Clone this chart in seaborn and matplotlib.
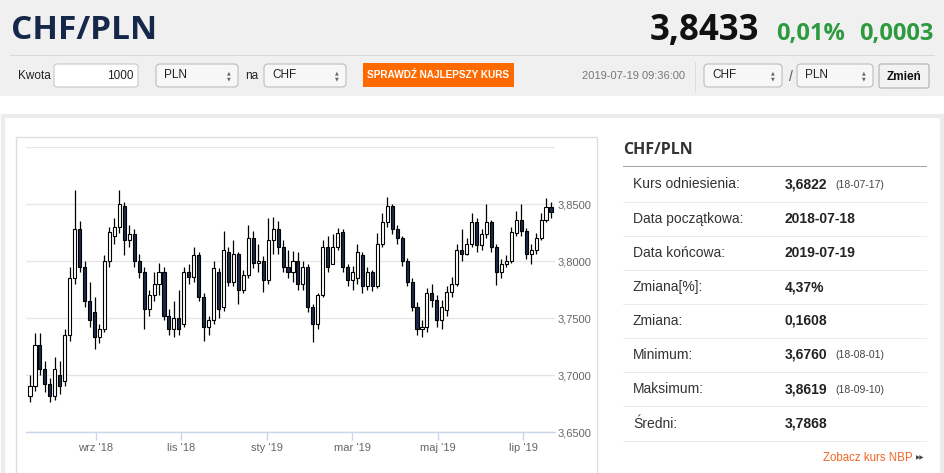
import matplotlib
matplotlib.use('Agg')
import matplotlib.pyplot as plt
from matplotlib.patches import Rectangle, FancyBboxPatch
from matplotlib.transforms import IdentityTransform
import numpy as np
import pandas as pd
import seaborn as sns

# CHF/PLN candles (about one candle per 2.5 sessions)
opens = [3.682, 3.690, 3.726, 3.705, 3.692, 3.682, 3.700, 3.695, 3.735, 3.785,
         3.828, 3.795, 3.765, 3.755, 3.733, 3.740, 3.800, 3.822, 3.830, 3.848,
         3.818, 3.824, 3.800, 3.790, 3.758, 3.770, 3.780, 3.790, 3.752, 3.740,
         3.750, 3.745, 3.790, 3.786, 3.805, 3.768, 3.742, 3.748, 3.790, 3.760,
         3.808, 3.782, 3.806, 3.775, 3.788, 3.820, 3.798, 3.800, 3.783, 3.818,
         3.828, 3.812, 3.795, 3.790, 3.800, 3.780, 3.795, 3.760, 3.745, 3.770,
         3.812, 3.797, 3.812, 3.825, 3.795, 3.783, 3.785, 3.805, 3.778, 3.790,
         3.778, 3.815, 3.834, 3.848, 3.828, 3.820, 3.800, 3.782, 3.760, 3.740,
         3.742, 3.772, 3.766, 3.748, 3.757, 3.773, 3.780, 3.810, 3.806, 3.815,
         3.834, 3.814, 3.824, 3.834, 3.812, 3.790, 3.797, 3.800, 3.825, 3.836,
         3.826, 3.806, 3.810, 3.820, 3.836, 3.847]
closes = [3.690, 3.726, 3.705, 3.692, 3.682, 3.705, 3.690, 3.735, 3.785, 3.828,
          3.795, 3.765, 3.748, 3.733, 3.740, 3.800, 3.825, 3.830, 3.850, 3.818,
          3.824, 3.800, 3.790, 3.758, 3.770, 3.780, 3.790, 3.752, 3.740, 3.750,
          3.740, 3.790, 3.786, 3.805, 3.768, 3.742, 3.748, 3.794, 3.758, 3.810,
          3.782, 3.806, 3.775, 3.788, 3.820, 3.798, 3.800, 3.783, 3.818, 3.828,
          3.812, 3.795, 3.790, 3.800, 3.780, 3.795, 3.760, 3.745, 3.770, 3.812,
          3.795, 3.812, 3.825, 3.795, 3.783, 3.790, 3.808, 3.778, 3.790, 3.778,
          3.815, 3.834, 3.848, 3.828, 3.820, 3.800, 3.782, 3.760, 3.740, 3.742,
          3.772, 3.766, 3.748, 3.760, 3.773, 3.780, 3.810, 3.806, 3.815, 3.834,
          3.814, 3.824, 3.834, 3.812, 3.790, 3.797, 3.800, 3.825, 3.836, 3.826,
          3.806, 3.810, 3.820, 3.836, 3.847, 3.843]
highs = [3.700, 3.737, 3.737, 3.712, 3.697, 3.716, 3.712, 3.740, 3.795, 3.862,
         3.835, 3.800, 3.782, 3.768, 3.745, 3.805, 3.830, 3.838, 3.862, 3.852,
         3.832, 3.828, 3.806, 3.795, 3.775, 3.790, 3.798, 3.795, 3.758, 3.765,
         3.775, 3.795, 3.797, 3.812, 3.808, 3.772, 3.752, 3.800, 3.794, 3.826,
         3.812, 3.818, 3.808, 3.792, 3.832, 3.826, 3.815, 3.804, 3.838, 3.839,
         3.835, 3.818, 3.810, 3.809, 3.808, 3.800, 3.797, 3.762, 3.772, 3.818,
         3.822, 3.824, 3.829, 3.828, 3.797, 3.796, 3.815, 3.808, 3.795, 3.792,
         3.825, 3.842, 3.856, 3.850, 3.832, 3.822, 3.803, 3.785, 3.764, 3.748,
         3.776, 3.780, 3.770, 3.766, 3.778, 3.786, 3.815, 3.828, 3.820, 3.842,
         3.838, 3.828, 3.850, 3.836, 3.815, 3.802, 3.805, 3.830, 3.844, 3.850,
         3.829, 3.815, 3.825, 3.842, 3.855, 3.852]
lows = [3.676, 3.686, 3.700, 3.685, 3.676, 3.678, 3.683, 3.690, 3.730, 3.780,
        3.790, 3.760, 3.742, 3.723, 3.728, 3.738, 3.795, 3.815, 3.825, 3.805,
        3.812, 3.795, 3.785, 3.740, 3.752, 3.765, 3.770, 3.748, 3.735, 3.733,
        3.735, 3.742, 3.780, 3.782, 3.765, 3.730, 3.735, 3.745, 3.750, 3.756,
        3.778, 3.778, 3.762, 3.772, 3.785, 3.794, 3.790, 3.773, 3.780, 3.806,
        3.806, 3.790, 3.785, 3.782, 3.775, 3.775, 3.755, 3.729, 3.740, 3.768,
        3.790, 3.804, 3.810, 3.790, 3.778, 3.775, 3.780, 3.772, 3.775, 3.774,
        3.776, 3.812, 3.830, 3.824, 3.815, 3.796, 3.778, 3.756, 3.735, 3.733,
        3.738, 3.760, 3.742, 3.740, 3.752, 3.768, 3.778, 3.800, 3.805, 3.812,
        3.808, 3.810, 3.820, 3.808, 3.779, 3.785, 3.795, 3.798, 3.822, 3.822,
        3.802, 3.797, 3.806, 3.818, 3.834, 3.838]

start_date = '2018-07-18'
end_date = '2019-07-19'
month_starts = ['2018-09-01', '2018-11-01', '2019-01-01', '2019-03-01', '2019-05-01', '2019-07-01']
month_labels = ["wrz '18", "lis '18", "sty '19", "mar '19", "maj '19", "lip '19"]
y_ticks = [3.65, 3.70, 3.75, 3.80, 3.85]

stat_labels = ['Kurs odniesienia:', 'Data początkowa:', 'Data końcowa:', 'Zmiana[%]:',
               'Zmiana:', 'Minimum:', 'Maksimum:', 'Średni:']
stat_values = ['3,6822', '2018-07-18', '2019-07-19', '4,37%', '0,1608', '3,6760', '3,8619', '3,7868']
stat_dates = ['(18-07-17)', '', '', '', '', '(18-08-01)', '(18-09-10)', '']

W, H = 945, 473
sns.set_theme(style='white')
plt.rcParams['font.family'] = ['Liberation Sans', 'DejaVu Sans']

fig = plt.figure(figsize=(W / 100, H / 100), dpi=100)
fig.patch.set_facecolor('white')
ident = IdentityTransform()


def fx(x):
    return x / W


def fy(y):
    return 1 - y / H


def rect(x0, y0, x1, y1, fc, ec='none', lw=1.0, r=0, z=0):
    if r:
        p = FancyBboxPatch((x0, H - y1), x1 - x0, y1 - y0,
                           boxstyle=f'round,pad=0,rounding_size={r}',
                           fc=fc, ec=ec, lw=lw, transform=ident, zorder=z)
    else:
        p = Rectangle((x0, H - y1), x1 - x0, y1 - y0, fc=fc, ec=ec, lw=lw,
                      transform=ident, zorder=z)
    fig.add_artist(p)


def text(x, y, s, **kw):
    kw.setdefault('va', 'center')
    fig.text(fx(x), fy(y), s, **kw)


# header strip
rect(0, 0, W, 96, '#f0f0f0')
rect(10, 54.5, 935, 55.5, '#d9d9d9')
text(11, 39, 'CHF/PLN', family='Open Sans', weight='bold', size=24, color='#16284a', va='baseline')
text(759, 40, '3,8433', family='Open Sans', weight='bold', size=25, color='#111111', va='baseline', ha='right')
text(776, 40, '0,01%', family='Open Sans', weight='bold', size=17, color='#2e9a3f', va='baseline')
text(934, 40, '0,0003', family='Open Sans', weight='bold', size=17, color='#2e9a3f', va='baseline', ha='right')

# converter form row
fs = 8.5
text(18, 76, 'Kwota', size=fs, color='#222222')
rect(54, 64, 138, 87, 'white', '#c8c8c8', 0.8, r=3)
text(134, 76, '1000', size=fs, color='#222222', ha='right')


def select(x0, x1, label):
    rect(x0, 64, x1, 87, '#f7f7f7', '#bdbdbd', 0.8, r=4)
    text(x0 + 8, 75.5, label, size=fs, color='#222222')
    text(x1 - 9, 72.5, '▲', size=3.5, color='#666666', ha='center', family='DejaVu Sans')
    text(x1 - 9, 78.5, '▼', size=3.5, color='#666666', ha='center', family='DejaVu Sans')


select(156, 238, 'PLN')
text(245, 76, 'na', size=fs, color='#222222')
select(264, 346, 'CHF')
rect(363, 63, 514, 87, '#ff6a00')
text(438.5, 75.5, 'SPRAWDŹ NAJLEPSZY KURS', size=7.2, color='white', ha='center', weight='bold')
text(582, 76, '2019-07-19 09:36:00', size=8, color='#777777')
rect(695, 62, 696, 92, '#dcdcdc')
select(704, 782, 'CHF')
text(791, 77, '/', size=10, color='#555555', ha='center')
select(797, 873, 'PLN')
rect(879, 64, 929, 88, '#f2f2f2', '#b0b0b0', 0.8, r=2)
text(904, 76.5, 'Zmień', size=8.5, color='#111111', ha='center', weight='bold')

# lower panel frames
rect(3, 116, 942, H + 5, 'none', '#ececec', 3)
rect(16, 137, 597, H + 5, 'none', '#dedede', 1)

# candlestick chart
n = len(closes)
bdays = pd.bdate_range(start_date, end_date)
step = (len(bdays) - 1) / (n - 1)
pos = np.arange(n) * step
o = np.array(opens)
c = np.array(closes)
up = c >= o
body_lo = np.minimum(o, c)
body_h = np.maximum(np.abs(c - o), 0.0008)

ax_l, ax_r, ax_t, ax_b = 25.7, 555, 147, 432
ax = fig.add_axes([fx(ax_l), fy(ax_b), fx(ax_r) - fx(ax_l), fy(ax_t) - fy(ax_b)])
ax.set_facecolor('none')
ax.vlines(pos, lows, highs, color='black', lw=0.9, zorder=2)
ax.bar(pos, body_h, bottom=body_lo, width=step * 0.62,
       color=np.where(up, 'white', '#1b2a4a'), edgecolor='black', lw=0.8, zorder=3)

px_per_unit = (551 - 30) / pos[-1]
ax.set_xlim(-(30 - ax_l) / px_per_unit, pos[-1] + (ax_r - 551) / px_per_unit)
ax.set_ylim(3.65, 3.90)
ax.axhline(3.90, color='#e6e6e6', lw=1, zorder=0)
ax.set_yticks(y_ticks)
ax.set_yticklabels([f'{v:.4f}'.replace('.', ',') for v in y_ticks])
ax.yaxis.tick_right()
ax.grid(axis='y', color='#e6e6e6', lw=1, zorder=0)
ax.grid(axis='x', visible=False)
ax.tick_params(axis='y', length=0, pad=2, labelsize=8, labelcolor='#666666')
ax.set_xticks([bdays.searchsorted(pd.Timestamp(m)) for m in month_starts])
ax.set_xticklabels(month_labels)
ax.tick_params(axis='x', length=6, width=1, color='#ccd6eb', pad=2, labelsize=8,
               labelcolor='#666666', bottom=True, direction='out')
sns.despine(ax=ax, left=True, right=True, top=True)
ax.spines['bottom'].set_color('#ccd6eb')
ax.spines['bottom'].set_linewidth(1)

# statistics table
text(623, 150, 'CHF/PLN', family='Open Sans', weight='bold', size=11.5, color='#333333')
rect(623, 165.5, 927, 167, '#a0a0a0')
row_y = [184.5, 219, 253, 287, 320.5, 354.5, 389, 423.5]
for i, y in enumerate(row_y):
    text(633, y, stat_labels[i], size=10, color='#333333')
    text(785, y, stat_values[i], size=10, color='#222222', weight='bold')
    if stat_dates[i]:
        text(835, y + 1, stat_dates[i], size=7.5, color='#444444')
    rect(623, y + 17, 927, y + 18, '#ebebeb')
text(913, 457.5, 'Zobacz kurs NBP', size=8.3, color='#f26522', ha='right')
text(916, 458, '▶▶', size=4, color='#444444', family='DejaVu Sans')

fig.savefig('out.png', dpi=100)
